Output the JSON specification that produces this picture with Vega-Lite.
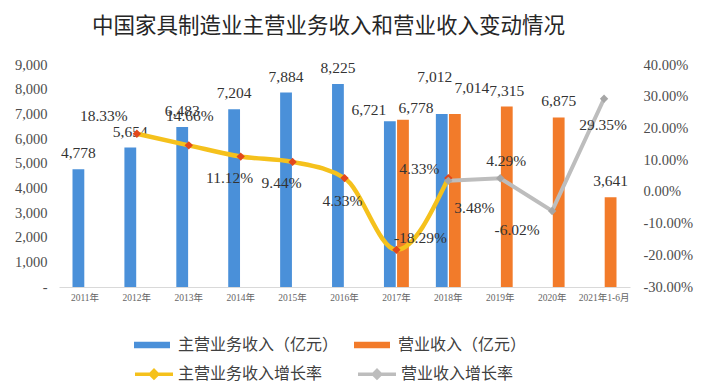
{
  "$schema": "https://vega.github.io/schema/vega-lite/v6.json",
  "width": 571,
  "height": 222,
  "autosize": {"type": "none"},
  "padding": {"left": 59, "top": 65, "right": 86, "bottom": 102},
  "background": "white",
  "title": {
    "text": "中国家具制造业主营业务收入和营业收入变动情况",
    "anchor": "start",
    "frame": "group",
    "dx": 33,
    "offset": 20,
    "font": "Noto Sans CJK SC",
    "fontSize": 21.5,
    "fontWeight": "normal",
    "color": "#262626"
  },
  "datasets": {
    "revenue": [
      {"year": "2011年", "series": "主营业务收入（亿元）", "value": 4778},
      {"year": "2012年", "series": "主营业务收入（亿元）", "value": 5654},
      {"year": "2013年", "series": "主营业务收入（亿元）", "value": 6483},
      {"year": "2014年", "series": "主营业务收入（亿元）", "value": 7204},
      {"year": "2015年", "series": "主营业务收入（亿元）", "value": 7884},
      {"year": "2016年", "series": "主营业务收入（亿元）", "value": 8225},
      {"year": "2017年", "series": "主营业务收入（亿元）", "value": 6721},
      {"year": "2017年", "series": "营业收入（亿元）", "value": 6778},
      {"year": "2018年", "series": "主营业务收入（亿元）", "value": 7012},
      {"year": "2018年", "series": "营业收入（亿元）", "value": 7014},
      {"year": "2019年", "series": "营业收入（亿元）", "value": 7315},
      {"year": "2020年", "series": "营业收入（亿元）", "value": 6875},
      {"year": "2021年1-6月", "series": "营业收入（亿元）", "value": 3641}
    ],
    "growth": [
      {"year": "2012年", "series": "主营业务收入增长率", "rate": 0.1833},
      {"year": "2013年", "series": "主营业务收入增长率", "rate": 0.1466},
      {"year": "2014年", "series": "主营业务收入增长率", "rate": 0.1112},
      {"year": "2015年", "series": "主营业务收入增长率", "rate": 0.0944},
      {"year": "2016年", "series": "主营业务收入增长率", "rate": 0.0433},
      {"year": "2017年", "series": "主营业务收入增长率", "rate": -0.1829},
      {"year": "2018年", "series": "主营业务收入增长率", "rate": 0.0433},
      {"year": "2018年", "series": "营业收入增长率", "rate": 0.0348},
      {"year": "2019年", "series": "营业收入增长率", "rate": 0.0429},
      {"year": "2020年", "series": "营业收入增长率", "rate": -0.0602},
      {"year": "2021年1-6月", "series": "营业收入增长率", "rate": 0.2935}
    ]
  },
  "config": {
    "view": {"stroke": null},
    "locale": {"number": {"decimal": ".", "thousands": ",", "grouping": [3], "currency": ["", ""], "minus": "-"}},
    "axis": {"grid": false, "ticks": false, "labelFont": "Liberation Serif", "labelColor": "#4d4d4d"},
    "text": {"font": "Liberation Serif", "fontSize": 15.5, "fill": "#333333", "baseline": "middle", "align": "center"}
  },
  "encoding": {
    "x": {
      "field": "year",
      "type": "nominal",
      "sort": ["2011年", "2012年", "2013年", "2014年", "2015年", "2016年", "2017年", "2018年", "2019年", "2020年", "2021年1-6月"],
      "scale": {
        "domain": ["2011年", "2012年", "2013年", "2014年", "2015年", "2016年", "2017年", "2018年", "2019年", "2020年", "2021年1-6月"],
        "paddingInner": 0.52,
        "paddingOuter": 0.26
      },
      "axis": {
        "title": null,
        "labelAngle": 0,
        "labelFont": "Liberation Serif, Noto Sans CJK SC",
        "labelFontSize": 9.5,
        "labelColor": "#666666",
        "labelPadding": 5,
        "domainColor": "#d9d9d9",
        "domainWidth": 1
      }
    }
  },
  "layer": [
    {
      "data": {"name": "revenue"},
      "encoding": {
        "y": {
          "field": "value",
          "type": "quantitative",
          "scale": {"domain": [0, 9000], "nice": false},
          "axis": {
            "orient": "left",
            "title": null,
            "domain": false,
            "values": [0, 1000, 2000, 3000, 4000, 5000, 6000, 7000, 8000, 9000],
            "labelExpr": "datum.value == 0 ? '-\u00a0\u00a0\u00a0' : format(datum.value, ',')",
            "labelFontSize": 14.5,
            "labelPadding": 12
          }
        },
        "xOffset": {
          "field": "series",
          "type": "nominal",
          "scale": {"domain": ["主营业务收入（亿元）", "营业收入（亿元）"], "paddingInner": 0.1}
        }
      },
      "layer": [
        {
          "mark": {"type": "bar"},
          "encoding": {
            "color": {
              "field": "series",
              "type": "nominal",
              "scale": {"domain": ["主营业务收入（亿元）", "营业收入（亿元）"], "range": ["#4a90d9", "#f27b2a"]},
              "legend": {
                "orient": "none",
                "legendX": 75,
                "legendY": 262,
                "direction": "horizontal",
                "title": null,
                "padding": 0,
                "symbolType": "M-1,-0.18H1V0.18H-1Z",
                "symbolSize": 1296,
                "symbolStrokeWidth": 0,
                "symbolOpacity": 1,
                "labelFont": "Noto Sans CJK SC",
                "labelFontSize": 16,
                "labelColor": "#404040",
                "labelLimit": 400,
                "labelOffset": 8,
                "columnPadding": 15
              }
            }
          }
        },
        {
          "transform": [{"filter": "datum.year != '2017年' && datum.year != '2018年'"}],
          "mark": {"type": "text", "dy": -16},
          "encoding": {"text": {"field": "value", "type": "quantitative", "format": ","}}
        },
        {
          "transform": [{"filter": "datum.year == '2017年' && datum.series == '主营业务收入（亿元）'"}],
          "mark": {"type": "text", "dx": -21, "dy": -11},
          "encoding": {"text": {"field": "value", "type": "quantitative", "format": ","}}
        },
        {
          "transform": [{"filter": "datum.year == '2017年' && datum.series == '营业收入（亿元）'"}],
          "mark": {"type": "text", "dx": 13, "dy": -12},
          "encoding": {"text": {"field": "value", "type": "quantitative", "format": ","}}
        },
        {
          "transform": [{"filter": "datum.year == '2018年' && datum.series == '主营业务收入（亿元）'"}],
          "mark": {"type": "text", "dx": -7, "dy": -37},
          "encoding": {"text": {"field": "value", "type": "quantitative", "format": ","}}
        },
        {
          "transform": [{"filter": "datum.year == '2018年' && datum.series == '营业收入（亿元）'"}],
          "mark": {"type": "text", "dx": 17, "dy": -26},
          "encoding": {"text": {"field": "value", "type": "quantitative", "format": ","}}
        }
      ]
    },
    {
      "data": {"name": "growth"},
      "encoding": {
        "y": {
          "field": "rate",
          "type": "quantitative",
          "scale": {"domain": [-0.3, 0.4], "nice": false},
          "axis": {
            "orient": "right",
            "title": null,
            "domain": false,
            "values": [-0.3, -0.2, -0.1, 0, 0.1, 0.2, 0.3, 0.4],
            "format": ".2%",
            "labelFontSize": 14.5,
            "labelPadding": 13
          }
        }
      },
      "layer": [
        {
          "transform": [{"filter": "datum.series == '主营业务收入增长率'"}],
          "mark": {"type": "line", "interpolate": "monotone", "strokeWidth": 4.5},
          "encoding": {
            "stroke": {
              "field": "series",
              "type": "nominal",
              "scale": {"domain": ["主营业务收入增长率", "营业收入增长率"], "range": ["#f5c11c", "#bdbdbd"]},
              "legend": {
                "orient": "none",
                "legendX": 74,
                "legendY": 288,
                "direction": "horizontal",
                "title": null,
                "padding": 0,
                "symbolType": "M-1,0H1M-0.19,0L0,-0.19L0.19,0L0,0.19Z",
                "symbolSize": 1444,
                "symbolStrokeWidth": 3.5,
                "labelFont": "Noto Sans CJK SC",
                "labelFontSize": 16,
                "labelColor": "#404040",
                "labelLimit": 400,
                "labelOffset": 3,
                "columnPadding": 28,
                "encode": {
                  "symbols": {
                    "update": {
                      "fill": {"signal": "datum.value == '主营业务收入增长率' ? '#e2481c' : '#a6a6a6'"},
                      "fillOpacity": {"value": 1}
                    }
                  }
                }
              }
            }
          }
        },
        {
          "transform": [{"filter": "datum.series == '营业收入增长率'"}],
          "mark": {"type": "line", "interpolate": "linear", "strokeWidth": 4},
          "encoding": {
            "stroke": {"field": "series", "type": "nominal"}
          }
        },
        {
          "mark": {"type": "point", "shape": "diamond", "filled": true, "size": 70, "opacity": 1, "strokeWidth": 0},
          "encoding": {
            "fill": {
              "field": "series",
              "type": "nominal",
              "scale": {"domain": ["主营业务收入增长率", "营业收入增长率"], "range": ["#e2481c", "#a6a6a6"]},
              "legend": null
            }
          }
        },
        {
          "transform": [{"filter": "datum.series == '主营业务收入增长率' && datum.year == '2012年'"}],
          "mark": {"type": "text", "dx": -33, "dy": -18},
          "encoding": {"text": {"field": "rate", "type": "quantitative", "format": ".2%"}}
        },
        {
          "transform": [{"filter": "datum.series == '主营业务收入增长率' && datum.year == '2013年'"}],
          "mark": {"type": "text", "dx": 1, "dy": -29},
          "encoding": {"text": {"field": "rate", "type": "quantitative", "format": ".2%"}}
        },
        {
          "transform": [{"filter": "datum.series == '主营业务收入增长率' && (datum.year == '2014年' || datum.year == '2015年')"}],
          "mark": {"type": "text", "dx": -11, "dy": 21},
          "encoding": {"text": {"field": "rate", "type": "quantitative", "format": ".2%"}}
        },
        {
          "transform": [{"filter": "datum.series == '主营业务收入增长率' && datum.year == '2016年'"}],
          "mark": {"type": "text", "dx": -2, "dy": 23},
          "encoding": {"text": {"field": "rate", "type": "quantitative", "format": ".2%"}}
        },
        {
          "transform": [{"filter": "datum.series == '主营业务收入增长率' && datum.year == '2017年'"}],
          "mark": {"type": "text", "dx": 24, "dy": -12},
          "encoding": {"text": {"field": "rate", "type": "quantitative", "format": ".2%"}}
        },
        {
          "transform": [{"filter": "datum.series == '主营业务收入增长率' && datum.year == '2018年'"}],
          "mark": {"type": "text", "dx": -29, "dy": -9},
          "encoding": {"text": {"field": "rate", "type": "quantitative", "format": ".2%"}}
        },
        {
          "transform": [{"filter": "datum.series == '营业收入增长率' && datum.year == '2018年'"}],
          "mark": {"type": "text", "dx": 26, "dy": 27},
          "encoding": {"text": {"field": "rate", "type": "quantitative", "format": ".2%"}}
        },
        {
          "transform": [{"filter": "datum.series == '营业收入增长率' && datum.year == '2019年'"}],
          "mark": {"type": "text", "dx": 6, "dy": -17},
          "encoding": {"text": {"field": "rate", "type": "quantitative", "format": ".2%"}}
        },
        {
          "transform": [{"filter": "datum.series == '营业收入增长率' && datum.year == '2020年'"}],
          "mark": {"type": "text", "dx": -35, "dy": 19},
          "encoding": {"text": {"field": "rate", "type": "quantitative", "format": ".2%"}}
        },
        {
          "transform": [{"filter": "datum.series == '营业收入增长率' && datum.year == '2021年1-6月'"}],
          "mark": {"type": "text", "dx": -1, "dy": 26},
          "encoding": {"text": {"field": "rate", "type": "quantitative", "format": ".2%"}}
        }
      ]
    }
  ],
  "resolve": {"scale": {"y": "independent"}}
}
